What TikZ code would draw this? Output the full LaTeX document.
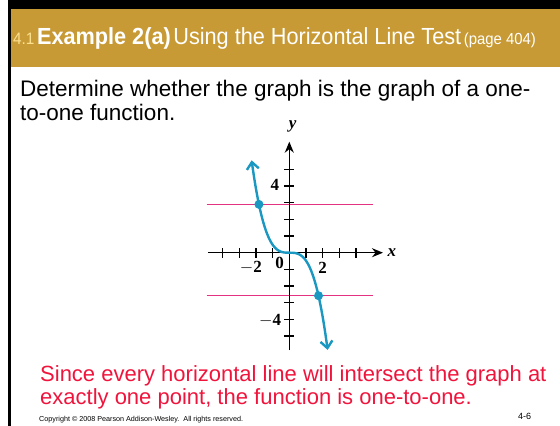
\documentclass[tikz,border=0pt]{standalone}
\usepackage{fontspec}
\setmainfont{Liberation Sans}
\newfontfamily\narrowfont{Liberation Sans}[FakeStretch=0.93]
\newfontfamily\graphfont{Liberation Serif}
\usetikzlibrary{arrows.meta}
\definecolor{slidegold}{HTML}{C89A35}
\definecolor{numyellow}{HTML}{FBE08E}
\definecolor{curveblue}{HTML}{1A98C2}
\definecolor{linepink}{HTML}{E33380}
\definecolor{notered}{HTML}{F0143C}
\tikzset{
  axis/.style={line width=1.3pt, -{Stealth[length=11pt,width=9pt]}},
  hline/.style={linepink, line width=1.5pt},
  curve/.style={curveblue, line width=2.4pt, line cap=round,
    {Straight Barb[length=7pt,width=12pt]}-{Straight Barb[length=7pt,width=12pt]}},
  numlbl/.style={font=\graphfont\bfseries\fontsize{17}{17}\selectfont, inner sep=0pt},
  bodytxt/.style={anchor=base west, inner sep=0pt, font=\fontsize{22.5}{26}\selectfont}
}
\begin{document}
\begin{tikzpicture}[x=1pt, y=1pt]
  \useasboundingbox (0,0) rectangle (560,426);
  % frame and title bar
  \fill[black] (8,0) rectangle (11,426);
  \fill[black] (8,417) rectangle (560,426);
  \fill[slidegold] (11,359) rectangle (560,417);
  \node[anchor=base west, inner sep=0pt, text=white] (title) at (13,381)
    {\narrowfont{\fontsize{16.5}{16.5}\selectfont\color{numyellow}4.1}
     {\fontsize{23.3}{23.3}\selectfont\bfseries Example 2(a)}
     {\fontsize{23.3}{23.3}\selectfont Using the Horizontal Line Test}
     {\fontsize{16}{16}\selectfont(page 404)}};
  \node[bodytxt] (ask1) at (20,329) {Determine whether the graph is the graph of a one-};
  \node[bodytxt] (ask2) at (20,305) {to-one function.};
  % graph
  \begin{scope}[shift={(289.3,173.3)}, x=16.67pt, y=16.67pt]
    \draw[hline] (-4.96,2.9) -- (5.04,2.9);
    \draw[hline] (-4.96,-2.58) -- (5.04,-2.58);
    \draw[axis] (-4.88,0) -- (5.62,0);
    \draw[axis] (0,-5.85) -- (0,6.66);
    \foreach \t in {-4,-3,-2,-1,1,2,3,4}
      \draw[line width=1.1pt] (\t,-0.3) -- (\t,0.3);
    \foreach \t in {-5,-4,-3,-2,-1,1,2,3,4,5}
      \draw[line width=1.1pt] (-0.3,\t) -- (0.3,\t);
    \draw[curve, domain=-2.26:2.3, samples=80, smooth]
      plot (\x, {-0.48*\x*\x*\x});
    \fill[curveblue] (-1.821,2.9) circle (4.5pt);
    \fill[curveblue] (1.752,-2.58) circle (4.5pt);
    \node[numlbl] (yfour) at (-0.86,4.05) {4};
    \node[numlbl] (ymfour) at (-1.15,-4.1) {$-$4};
    \node[numlbl] (xmtwo) at (-2.3,-0.9) {$-$2};
    \node[numlbl] (xtwo) at (2.0,-0.9) {2};
    \node[numlbl] (zero) at (-0.58,-0.62) {0};
    \node[numlbl, font=\graphfont\bfseries\itshape\fontsize{17}{17}\selectfont] (xlbl) at (6.15,0) {x};
    \node[numlbl, font=\graphfont\bfseries\itshape\fontsize{17}{17}\selectfont] (ylbl) at (0.2,7.6) {y};
  \end{scope}
  % conclusion
  \node[bodytxt, text=notered, font=\fontsize{22}{26}\selectfont] (note1) at (40,44) {Since every horizontal line will intersect the graph at};
  \node[bodytxt, text=notered, font=\fontsize{22}{26}\selectfont] (note2) at (40,21) {exactly one point, the function is one-to-one.};
  \node[anchor=base west, inner sep=0pt, font=\fontsize{7.2}{8}\selectfont] (copy) at (39,5)
    {Copyright \textcopyright{} 2008 Pearson Addison-Wesley.\ \ All rights reserved.};
  \node[anchor=base west, inner sep=0pt, font=\fontsize{9}{10}\selectfont] (pnum) at (518,6) {4-6};
\end{tikzpicture}
\end{document}
